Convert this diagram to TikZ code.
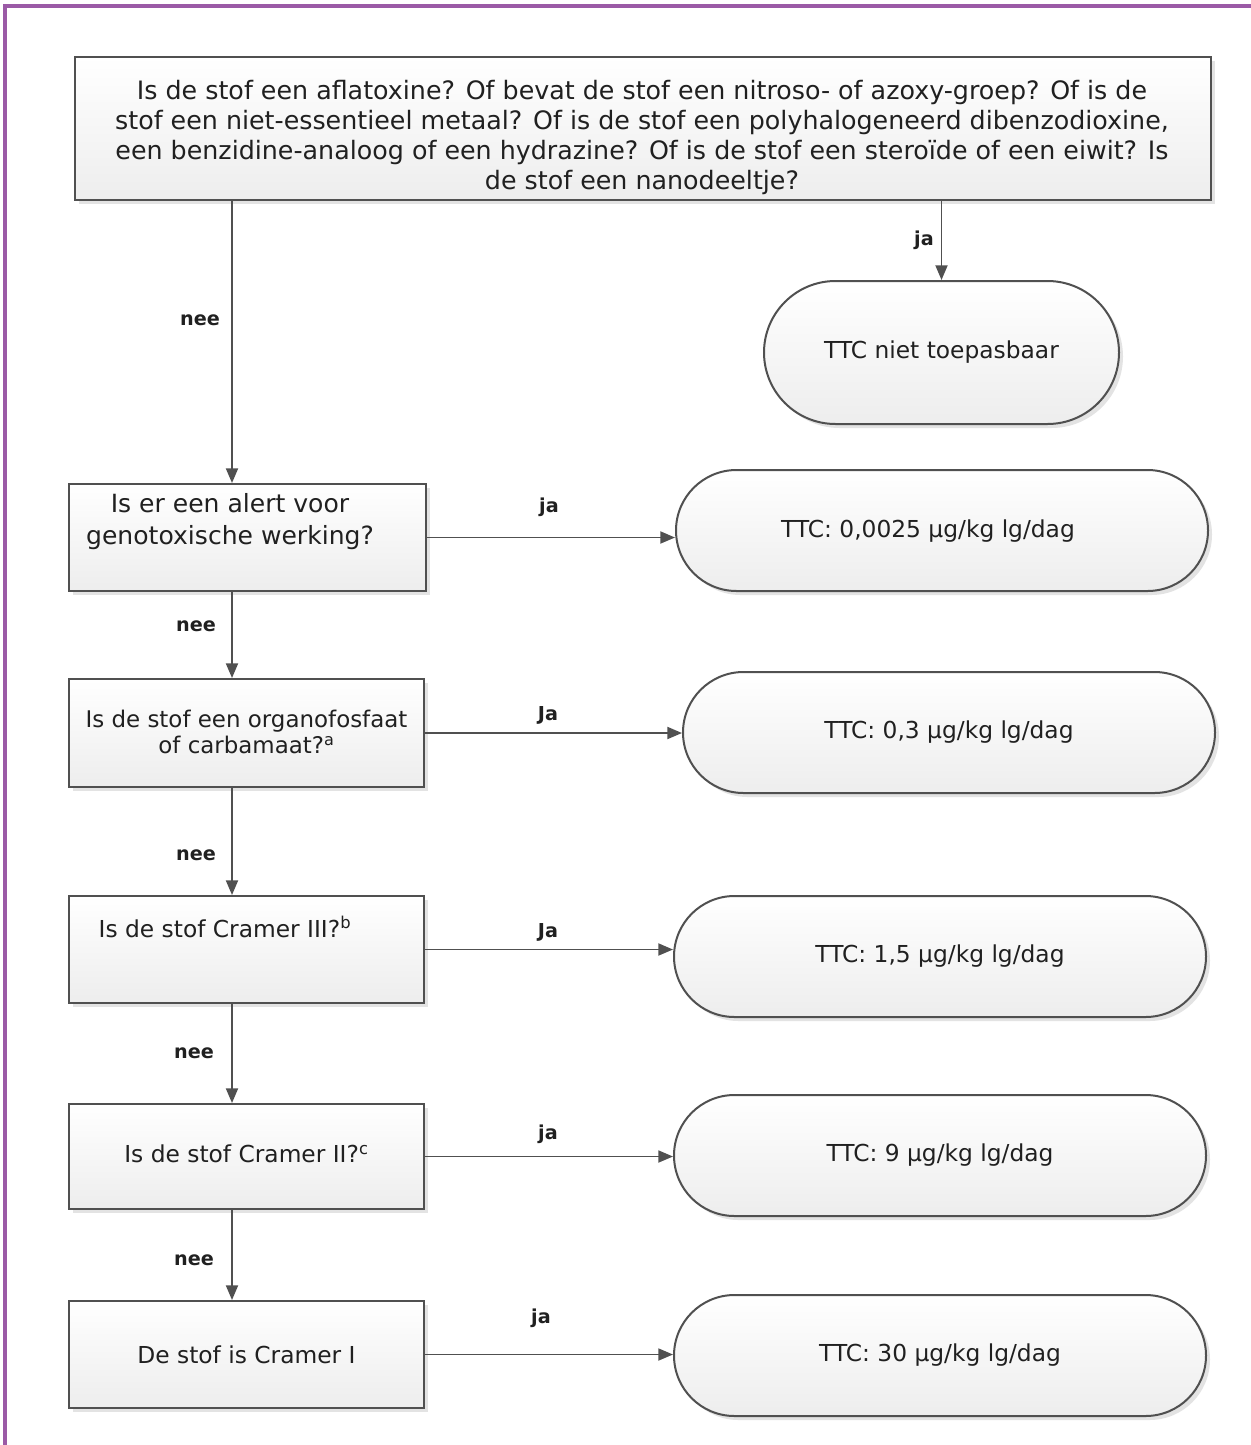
\documentclass[tikz,border=0pt]{standalone}
\usepackage{fontspec}
\setmainfont{DejaVu Sans}
\usetikzlibrary{shapes.misc,shadows,arrows.meta}
\definecolor{framec}{HTML}{9B5AA6}
\definecolor{lnc}{HTML}{505050}
\definecolor{txtc}{HTML}{202020}
\tikzset{
  boxbase/.style={draw=lnc, line width=1.5pt, inner sep=0pt, top color=white, bottom color=black!7,
    drop shadow={opacity=0.22, shadow xshift=3pt, shadow yshift=-3pt}},
  qbox/.style 2 args={boxbase, rectangle, minimum width=#1*0.75pt, minimum height=#2*0.75pt},
  tbox/.style 2 args={boxbase, rounded rectangle, minimum width=#1*0.75pt, minimum height=#2*0.75pt},
  txt/.style={text=txtc, font=\fontsize{17.5}{21}\selectfont, align=center},
  bigtxt/.style={text=txtc, font=\fontsize{19}{22.5}\selectfont, align=center},
  lbl/.style={text=txtc, font=\fontsize{14.4}{17}\selectfont\bfseries},
  arr/.style={draw=lnc, line width=1.4pt, -{Triangle[length=11pt,width=9pt]}},
}
\begin{document}
\begin{tikzpicture}[x=0.75pt,y=-0.75pt]
\path[fill=white,use as bounding box] (0,0) rectangle (1251,1445);
\draw[framec, line width=2.4pt] (5,1445) -- (5,6) -- (1251,6);
\coordinate (xl) at (232,0);
% top question
\node[qbox={1136}{143}] (q0) at (643,128.5) {};
\node[bigtxt] (t0) at (642,138) {Is de stof een aflatoxine? Of bevat de stof een nitroso- of azoxy-groep? Of is de\\
stof een niet-essentieel metaal? Of is de stof een polyhalogeneerd dibenzodioxine,\\
een benzidine-analoog of een hydrazine? Of is de stof een steroïde of een eiwit? Is\\
de stof een nanodeeltje?};
% terminals
\node[tbox={355}{143}, txt] (T0) at (941.5,352.5) {TTC niet toepasbaar};
\node[tbox={532}{121}] (T1) at (942,530.5) {};
\node[txt] (u1) at (928,531) {TTC: 0,0025 µg/kg lg/dag};
\node[tbox={532}{121}, txt] (T2) at (949,732.5) {TTC: 0,3 µg/kg lg/dag};
\node[tbox={532}{121}, txt] (T3) at (940,956.5) {TTC: 1,5 µg/kg lg/dag};
\node[tbox={532}{121}, txt] (T4) at (940,1155.5) {TTC: 9 µg/kg lg/dag};
\node[tbox={532}{121}, txt] (T5) at (940,1355.5) {TTC: 30 µg/kg lg/dag};
% question boxes
\node[qbox={357}{107}] (b1) at (247.5,537.5) {};
\node[bigtxt, font=\fontsize{18.8}{24}\selectfont] (t1) at (230,522) {Is er een alert voor\\genotoxische werking?};
\node[qbox={355}{108}] (b2) at (246.5,733) {};
\node[txt, font=\fontsize{17.2}{19.5}\selectfont] (t2) at (246.5,732) {Is de stof een organofosfaat\\of carbamaat?\textsuperscript{a}};
\node[qbox={355}{107}] (b3) at (246.5,949.5) {};
\node[txt] (t3) at (225,927) {Is de stof Cramer III?\textsuperscript{b}};
\node[qbox={355}{105}] (b4) at (246.5,1156.5) {};
\node[txt] (t4) at (246.5,1154) {Is de stof Cramer II?\textsuperscript{c}};
\node[qbox={355}{107}, txt] (b5) at (246.5,1354.5) {De stof is Cramer I};
% vertical connectors
\draw[arr] (q0.south -| xl) -- (b1.north -| xl);
\draw[arr] (q0.south -| T0.north) -- (T0.north);
\draw[arr] (b1.south -| xl) -- (b2.north -| xl);
\draw[arr] (b2.south -| xl) -- (b3.north -| xl);
\draw[arr] (b3.south -| xl) -- (b4.north -| xl);
\draw[arr] (b4.south -| xl) -- (b5.north -| xl);
% horizontal connectors
\draw[arr] (b1.east) -- (b1.east -| T1.west);
\draw[arr] (b2.east) -- (b2.east -| T2.west);
\draw[arr] (b3.east) -- (b3.east -| T3.west);
\draw[arr] (b4.east) -- (b4.east -| T4.west);
\draw[arr] (b5.east) -- (b5.east -| T5.west);
% labels
\node[lbl] (l1) at (200,320) {nee};
\node[lbl] (l2) at (924,240) {ja};
\node[lbl] (l3) at (549,507) {ja};
\node[lbl] (l4) at (196,626) {nee};
\node[lbl] (l5) at (548,715) {Ja};
\node[lbl] (l6) at (196,855) {nee};
\node[lbl] (l7) at (548,932) {Ja};
\node[lbl] (l8) at (194,1053) {nee};
\node[lbl] (l9) at (548,1134) {ja};
\node[lbl] (l10) at (194,1260) {nee};
\node[lbl] (l11) at (541,1318) {ja};
\end{tikzpicture}
\end{document}
